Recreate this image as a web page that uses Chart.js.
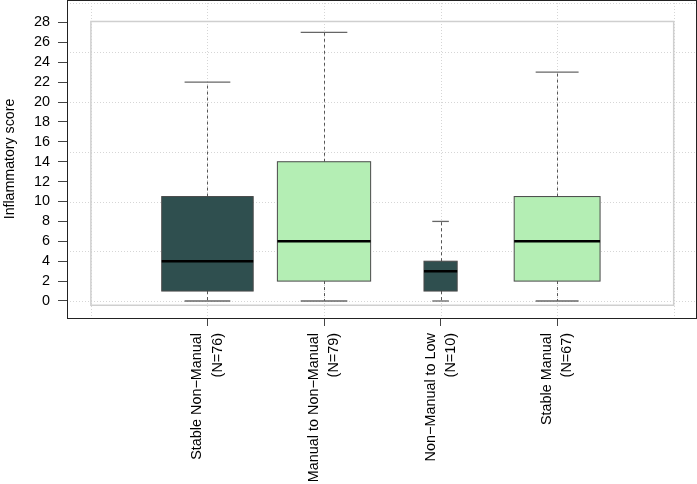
<!DOCTYPE html>
<html><head><meta charset="utf-8">
<script src="https://cdn.jsdelivr.net/npm/chart.js@4"></script>
<style>html,body{margin:0;padding:0;background:#fff}#wrap{width:697px;height:484px}</style>
</head><body><div id="wrap"><canvas id="c" width="697" height="484"></canvas></div>
<script>
const categories = ['Stable Non\u2212Manual', 'Manual to Non\u2212Manual', 'Non\u2212Manual to Low', 'Stable Manual'];
const groupN = [76, 79, 10, 67];
const whiskerLow = [0, 0, 0, 0];
const q1 = [1, 2, 1, 2];
const median = [4, 6, 3, 6];
const q3 = [10.5, 14, 4, 10.5];
const whiskerHigh = [22, 27, 8, 23];
const boxColors = ['#2F4F4F', '#B4EEB4', '#2F4F4F', '#B4EEB4'];
const yTickValues = [0, 2, 4, 6, 8, 10, 12, 14, 16, 18, 20, 22, 24, 26, 28];
const yGridValues = [0, 5, 10, 15, 20, 25, 30];
const xGridValues = [0, 1, 2, 3, 4, 5];

const FAMILY = "'Liberation Sans', Arial, Helvetica, sans-serif";
const TICKFONT = {family: FAMILY, size: 14.4};
const TITLEFONT = {family: FAMILY, size: 14.2};
const maxN = Math.max(...groupN);

const boxPlugin = {
  id: 'boxPlugin',
  beforeDatasetsDraw(chart) {
    const {ctx, chartArea: a, scales: {x, y}} = chart;
    ctx.save();
    ctx.strokeStyle = '#d6d6d6';
    ctx.lineWidth = 1;
    ctx.setLineDash([1, 2]);
    yGridValues.forEach(v => {
      const py = Math.round(y.getPixelForValue(v)) + 0.5;
      ctx.beginPath(); ctx.moveTo(a.left, py); ctx.lineTo(a.right, py); ctx.stroke();
    });
    xGridValues.forEach(v => {
      const px = Math.round(x.getPixelForValue(v)) + 0.5;
      ctx.beginPath(); ctx.moveTo(px, a.top); ctx.lineTo(px, a.bottom); ctx.stroke();
    });
    ctx.setLineDash([]);
    ctx.strokeStyle = '#cfcfcf';
    ctx.lineWidth = 1.5;
    const rx0 = x.getPixelForValue(0), rx1 = x.getPixelForValue(5);
    const ry0 = y.getPixelForValue(28.1), ry1 = y.getPixelForValue(-0.43);
    ctx.strokeRect(rx0, ry0, rx1 - rx0, ry1 - ry0);
    ctx.restore();
  },
  afterDatasetsDraw(chart) {
    const {ctx, scales: {x, y}} = chart;
    ctx.save();
    categories.forEach((c, i) => {
      const cx = x.getPixelForValue(i + 1);
      const halfW = 0.4 * Math.sqrt(groupN[i] / maxN);
      const bl = x.getPixelForValue(i + 1 - halfW), br = x.getPixelForValue(i + 1 + halfW);
      const capL = x.getPixelForValue(i + 1 - halfW / 2), capR = x.getPixelForValue(i + 1 + halfW / 2);
      const yq1 = y.getPixelForValue(q1[i]), yq3 = y.getPixelForValue(q3[i]);
      const ymed = y.getPixelForValue(median[i]);
      const ylo = y.getPixelForValue(whiskerLow[i]), yhi = y.getPixelForValue(whiskerHigh[i]);
      ctx.strokeStyle = '#555';
      ctx.lineWidth = 1;
      ctx.setLineDash([3, 3]);
      const wx = Math.round(cx) + 0.5;
      ctx.beginPath(); ctx.moveTo(wx, yq3); ctx.lineTo(wx, yhi); ctx.stroke();
      ctx.beginPath(); ctx.moveTo(wx, yq1); ctx.lineTo(wx, ylo); ctx.stroke();
      ctx.setLineDash([]);
      ctx.strokeStyle = '#666';
      ctx.lineWidth = 1.3;
      ctx.beginPath(); ctx.moveTo(capL, yhi); ctx.lineTo(capR, yhi); ctx.stroke();
      ctx.beginPath(); ctx.moveTo(capL, ylo); ctx.lineTo(capR, ylo); ctx.stroke();
      ctx.fillStyle = boxColors[i];
      ctx.fillRect(bl, yq3, br - bl, yq1 - yq3);
      ctx.strokeStyle = '#4a4a4a';
      ctx.lineWidth = 1;
      ctx.strokeRect(bl, yq3, br - bl, yq1 - yq3);
      ctx.strokeStyle = '#000';
      ctx.lineWidth = 2.5;
      ctx.beginPath(); ctx.moveTo(bl, ymed); ctx.lineTo(br, ymed); ctx.stroke();
    });
    ctx.restore();
  },
  afterDraw(chart) {
    const {ctx, chartArea: a} = chart;
    ctx.save();
    ctx.strokeStyle = '#222';
    ctx.lineWidth = 1;
    ctx.strokeRect(a.left + 0.5, a.top + 0.5, a.right - a.left - 1, a.bottom - a.top);
    ctx.restore();
  }
};

new Chart(document.getElementById('c'), {
  type: 'scatter',
  data: {
    datasets: [{
      label: 'median',
      data: categories.map((c, i) => ({x: i + 1, y: median[i]})),
      pointRadius: 0,
      showLine: false
    }]
  },
  options: {
    responsive: false,
    devicePixelRatio: 1,
    animation: false,
    layout: {padding: {top: 0, right: 0, left: 0, bottom: 0}},
    plugins: {legend: {display: false}, tooltip: {enabled: false}},
    scales: {
      x: {
        type: 'linear',
        min: -0.205,
        max: 5.2,
        afterBuildTicks: s => { s.ticks = categories.map((c, i) => ({value: i + 1})); },
        afterFit: s => { s.height = 166; s.paddingLeft = 0; s.paddingRight = 0; s.paddingTop = 0; s.paddingBottom = 0; },
        border: {display: false},
        grid: {drawOnChartArea: false, drawTicks: true, tickLength: 8, color: '#444'},
        ticks: {
          autoSkip: false,
          minRotation: 90,
          maxRotation: 90,
          padding: 7,
          labelOffset: -10,
          color: '#000',
          font: Object.assign({lineHeight: 1.4}, TICKFONT),
          callback: v => [categories[v - 1], '(N=' + groupN[v - 1] + ')']
        }
      },
      y: {
        type: 'linear',
        min: -1.71,
        max: 30.26,
        afterBuildTicks: s => { s.ticks = yTickValues.map(v => ({value: v})); },
        afterFit: s => { s.width = 67; s.paddingLeft = 0; s.paddingRight = 0; s.paddingTop = 0; s.paddingBottom = 0; },
        border: {display: false},
        grid: {drawOnChartArea: false, drawTicks: true, tickLength: 9, color: '#444'},
        ticks: {padding: 8, color: '#000', font: TICKFONT, callback: v => String(v)},
        title: {display: true, text: 'Inflammatory score', color: '#000', font: TITLEFONT, padding: {top: 2, bottom: 0}}
      }
    }
  },
  plugins: [boxPlugin]
});
</script>
</body></html>
